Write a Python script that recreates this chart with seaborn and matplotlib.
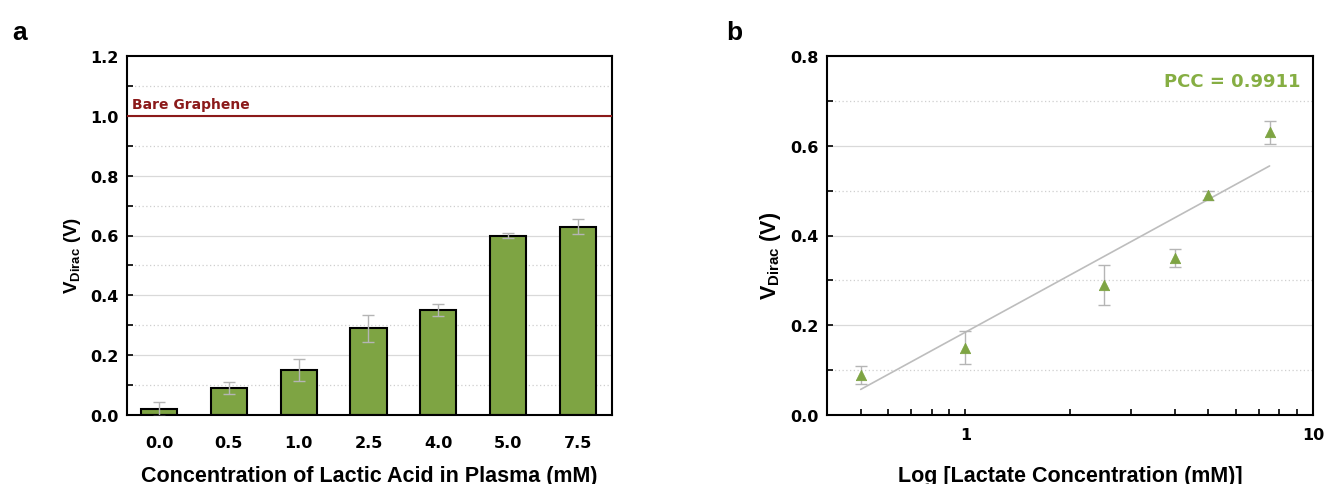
import numpy as np
import pandas as pd
import matplotlib
matplotlib.use("Agg")
import matplotlib.pyplot as plt
from matplotlib.ticker import MultipleLocator, LogLocator, NullFormatter, FixedLocator, FormatStrFormatter
import seaborn as sns

sns.set_style("white")
plt.rcParams['font.family'] = ['DejaVu Sans']
plt.rcParams['mathtext.fontset'] = 'custom'
plt.rcParams['mathtext.bf'] = 'Liberation Sans:bold'
plt.rcParams['mathtext.rm'] = 'Liberation Sans'
plt.rcParams['text.color'] = 'black'
plt.rcParams['axes.labelcolor'] = 'black'
plt.rcParams['xtick.color'] = 'black'
plt.rcParams['ytick.color'] = 'black'

# data
conc_labels = ['0.0', '0.5', '1.0', '2.5', '4.0', '5.0', '7.5']
v_dirac = [0.02, 0.09, 0.15, 0.29, 0.35, 0.60, 0.63]
v_err = [0.025, 0.02, 0.037, 0.045, 0.02, 0.01, 0.025]
bare_graphene = 1.0

# panel b (log x), 0.0 not shown
conc_b = [0.5, 1.0, 2.5, 4.0, 5.0, 7.5]
v_b = [0.09, 0.15, 0.29, 0.35, 0.49, 0.63]
err_b = [0.02, 0.037, 0.045, 0.02, 0.01, 0.025]
fit_x = [0.5, 7.5]
fit_y = [0.057, 0.555]
pcc_text = 'PCC = 0.9911'

bar_color = '#7ea443'
red = '#8b1a1a'
green_txt = '#86ae43'
err_color = '#b5b5b5'

fig = plt.figure(figsize=(13.27, 4.85), dpi=100)
ax1 = fig.add_axes([127/1327, 69/485, 485/1327, 359/485])
ax2 = fig.add_axes([827/1327, 69/485, 486/1327, 359/485])

ylab = r'$\mathbf{V_{Dirac}}$' + ' (V)'
lab_font = dict(family='Liberation Sans', weight='bold')
tick_size = 11.5


def style_grid(ax, ymax):
    ax.set_axisbelow(True)
    for y in np.arange(0.2, ymax, 0.2):
        ax.axhline(y, color='#d9d9d9', lw=0.9, zorder=0)
    for y in np.arange(0.1, ymax, 0.2):
        ax.axhline(y, color='#cfcfcf', lw=0.9, ls=(0, (1, 2)), zorder=0)
    for s in ax.spines.values():
        s.set_color('black')
        s.set_linewidth(1.5)


# ---- panel a ----
df = pd.DataFrame({'conc': conc_labels, 'v': v_dirac})
style_grid(ax1, 1.2)
sns.barplot(data=df, x='conc', y='v', ax=ax1, color=bar_color, width=0.52,
            edgecolor='black', linewidth=1.5, saturation=1, zorder=2)
ax1.errorbar(range(len(v_dirac)), v_dirac, yerr=v_err, fmt='none',
             ecolor=err_color, elinewidth=1, capsize=4, capthick=1, zorder=3)
ax1.axhline(bare_graphene, color=red, lw=1.5, zorder=4)
ax1.text(-0.39, bare_graphene + 0.017, 'Bare Graphene', color=red,
         fontsize=10, fontweight='bold', ha='left', va='bottom')
ax1.set_xlim(-0.46, 6.49)
ax1.set_ylim(0, 1.2)
ax1.yaxis.set_major_locator(MultipleLocator(0.2))
ax1.yaxis.set_minor_locator(MultipleLocator(0.1))
ax1.yaxis.set_major_formatter(FormatStrFormatter('%.1f'))
ax1.tick_params(axis='y', which='both', direction='in', left=True, length=4, width=1.2, pad=6)
ax1.tick_params(axis='x', bottom=False, pad=11)
ax1.tick_params(labelsize=tick_size)
for t in ax1.get_xticklabels() + ax1.get_yticklabels():
    t.set_fontweight('bold')
ax1.set_xlabel('Concentration of Lactic Acid in Plasma (mM)', fontsize=15.5, **lab_font)
ax1.set_ylabel(ylab, fontsize=13.5, **lab_font)
ax1.xaxis.set_label_coords(0.5, -0.14)
ax1.yaxis.set_label_coords(-0.09, 0.446)

# ---- panel b ----
style_grid(ax2, 0.8)
sns.lineplot(x=fit_x, y=fit_y, ax=ax2, color='#bdbdbd', lw=1.2, zorder=2)
ax2.errorbar(conc_b, v_b, yerr=err_b, fmt='none', ecolor=err_color,
             elinewidth=1, capsize=4, capthick=1, zorder=3)
sns.scatterplot(x=conc_b, y=v_b, ax=ax2, marker='^', s=55, color=bar_color,
                edgecolor=bar_color, zorder=4)
ax2.set_xscale('log')
ax2.set_xlim(0.4, 10)
ax2.set_ylim(0, 0.8)
ax2.xaxis.set_major_locator(FixedLocator([1, 10]))
ax2.xaxis.set_major_formatter(FormatStrFormatter('%g'))
ax2.xaxis.set_minor_locator(LogLocator(base=10, subs=np.arange(2, 10)))
ax2.xaxis.set_minor_formatter(NullFormatter())
ax2.yaxis.set_major_locator(MultipleLocator(0.2))
ax2.yaxis.set_minor_locator(MultipleLocator(0.1))
ax2.yaxis.set_major_formatter(FormatStrFormatter('%.1f'))
ax2.tick_params(axis='both', which='both', direction='in', left=True,
                bottom=True, length=4, width=1.2, pad=6)
ax2.tick_params(axis='x', pad=9)
ax2.tick_params(labelsize=tick_size)
for t in ax2.get_xticklabels() + ax2.get_yticklabels():
    t.set_fontweight('bold')
ax2.text(0.975, 0.955, pcc_text, transform=ax2.transAxes, ha='right', va='top',
         color=green_txt, fontsize=13, fontweight='bold')
ax2.set_xlabel('Log [Lactate Concentration (mM)]', fontsize=15.5, **lab_font)
ax2.set_ylabel(ylab, fontsize=15.5, **lab_font)
ax2.xaxis.set_label_coords(0.5, -0.14)
ax2.yaxis.set_label_coords(-0.09, 0.446)

fig.text(12/1327, 1 - 40/485, 'a', fontsize=19, fontweight='bold', family='Liberation Sans')
fig.text(726/1327, 1 - 40/485, 'b', fontsize=19, fontweight='bold', family='Liberation Sans')

fig.savefig('out.png', dpi=100)
